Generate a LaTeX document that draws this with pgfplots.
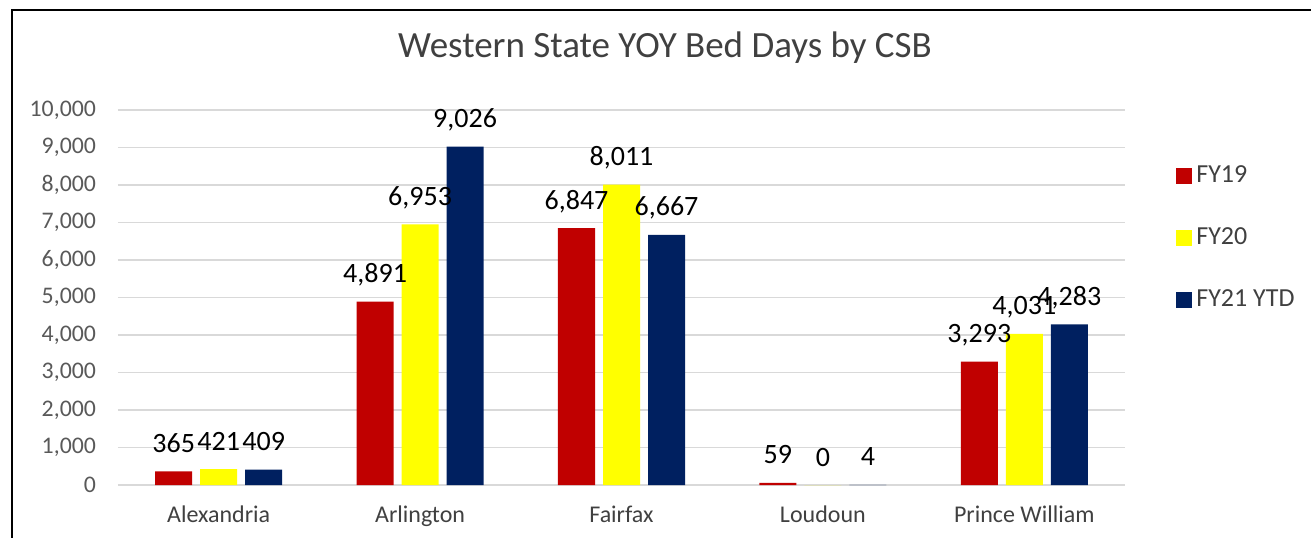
\documentclass[border=0pt]{standalone}
\usepackage{pgfplots}
\pgfplotsset{compat=1.18}
\usepackage{fontspec}
\setmainfont{Carlito}
\definecolor{cRed}{HTML}{C00000}
\definecolor{cYel}{HTML}{FFFF00}
\definecolor{cNavy}{HTML}{002060}
\definecolor{gridgray}{HTML}{D9D9D9}
\definecolor{tickgray}{HTML}{595959}
\definecolor{titlegray}{HTML}{404040}
\begin{document}
\begin{tikzpicture}
\useasboundingbox (-59pt,-26pt) rectangle (596.5pt,242.5pt);
\draw[line width=1pt, black] (-53pt,-30pt) -- (-53pt,237.5pt) -- (600pt,237.5pt);
\begin{axis}[
  scale only axis, width=503.5pt, height=187.5pt,
  at={(0pt,0pt)}, anchor=south west,
  ybar=4pt, bar width=18.5pt,
  xmin=-0.5, xmax=4.5, ymin=0, ymax=10000,
  xtick={0,1,2,3,4},
  xticklabels={Alexandria,Arlington,Fairfax,Loudoun,Prince William},
  ytick={0,1000,...,10000},
  ymajorgrids, grid style={draw=gridgray, line width=0.75pt},
  axis line style={draw=none},
  major tick length=0pt,
  scaled y ticks=false,
  /pgf/number format/.cd, fixed, precision=0, 1000 sep={,}, assume math mode=true, /pgfplots/.cd,
  yticklabel style={font=\fontsize{11.9}{13}\selectfont, text=tickgray, xshift=-7.5pt},
  xticklabel style={font=\fontsize{12}{14}\selectfont, text=titlegray, yshift=-7pt},
  title={Western State YOY Bed Days by CSB},
  title style={font=\fontsize{18.5}{22}\selectfont, text=titlegray, at={(0.5432,1.1093)}, anchor=base, inner sep=0pt},
  nodes near coords={\pgfmathprintnumber{\pgfplotspointmeta}},
  every node near coord/.append style={font=\fontsize{14}{16}\selectfont, text=black, anchor=base, yshift=9.5pt, inner sep=0pt},
  legend style={at={(1.0506,0.659)}, anchor=west, draw=none, fill=none,
    font=\fontsize{13}{15}\selectfont, text=titlegray, row sep=20pt, inner sep=0pt,
    nodes={inner xsep=2pt, inner ysep=0pt, text height=9pt, text depth=2pt}},
  legend cell align=left,
]
\addplot[fill=cRed, draw=none, legend image code/.code={\fill[cRed] (0pt,-4pt) rectangle (8pt,4pt);}]
  coordinates {(0,365) (1,4891) (2,6847) (3,59) (4,3293)};
\addplot[fill=cYel, draw=none, legend image code/.code={\fill[cYel] (0pt,-4pt) rectangle (8pt,4pt);}]
  coordinates {(0,421) (1,6953) (2,8011) (3,0) (4,4031)};
\addplot[fill=cNavy, draw=none, legend image code/.code={\fill[cNavy] (0pt,-4pt) rectangle (8pt,4pt);}]
  coordinates {(0,409) (1,9026) (2,6667) (3,4) (4,4283)};
\legend{FY19,FY20,FY21 YTD}
\end{axis}
\end{tikzpicture}
\end{document}
